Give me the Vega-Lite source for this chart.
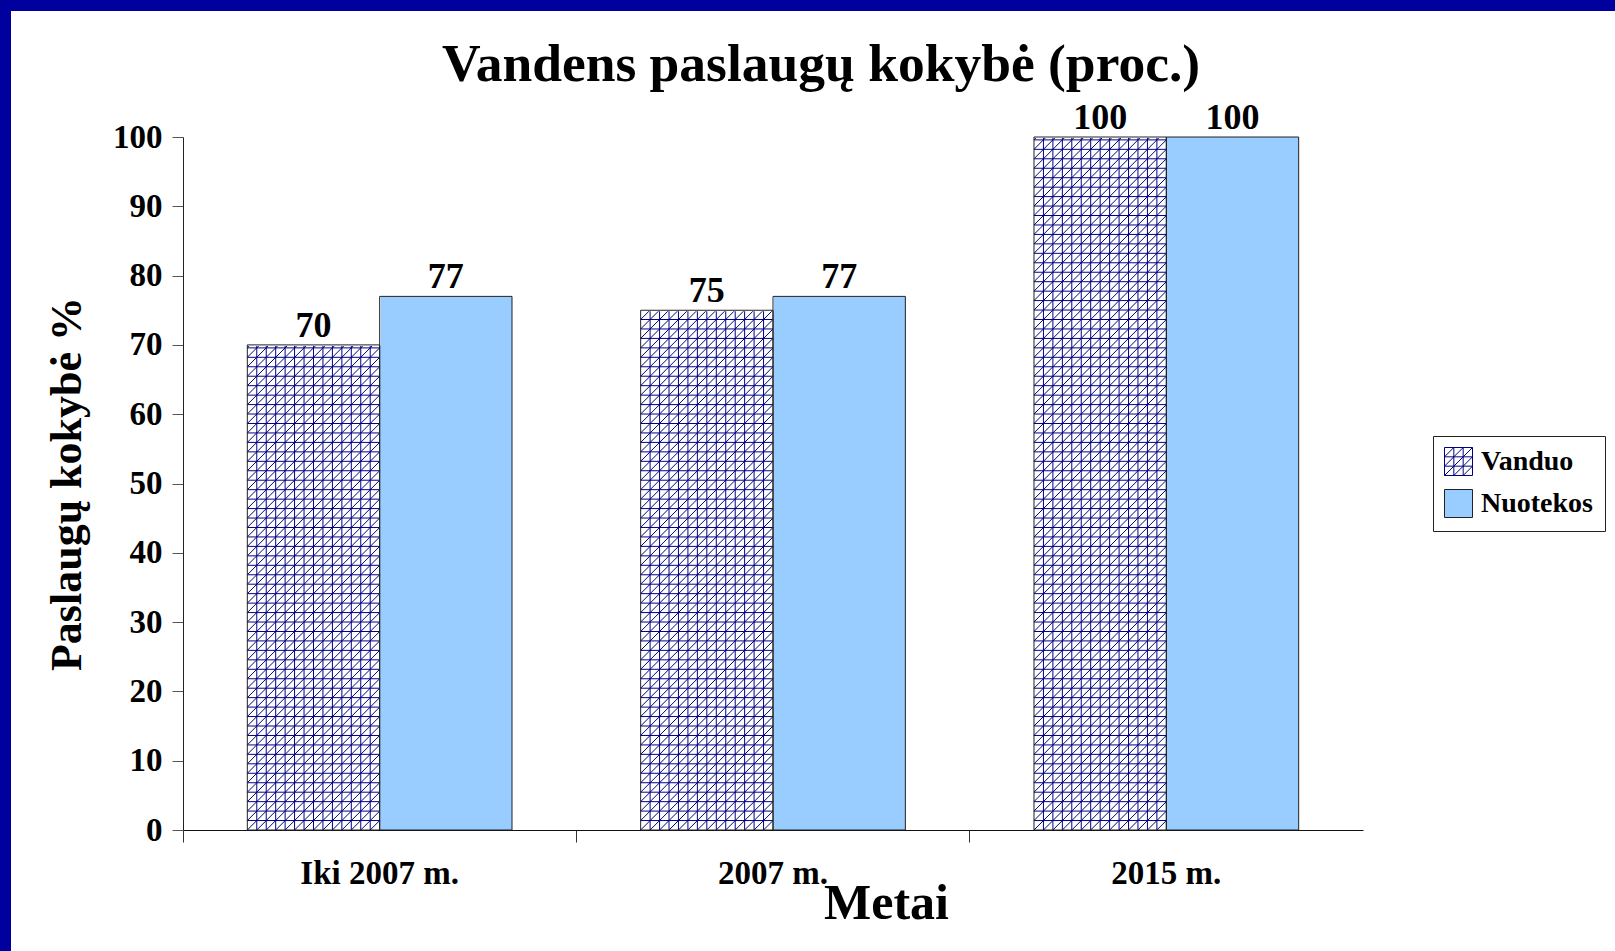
{
"$schema":"https://vega.github.io/schema/vega-lite/v6.json",
"width":1604,"height":940,
"autosize":{"type":"none"},
"padding":{"left":11,"top":11,"right":0,"bottom":0},
"background":"#00009E",
"view":{"fill":"white","stroke":null},
"title":{"text":"Vandens paslaugų kokybė (proc.)","font":"Liberation Serif","fontSize":53.5,"fontWeight":"bold","color":"black","anchor":"middle","frame":"group","offset":-123,"baseline":"alphabetic","dx":8},
"data":{"values":[
{"group":"Iki 2007 m.","series":"Vanduo","value":70},
{"group":"Iki 2007 m.","series":"Nuotekos","value":77},
{"group":"2007 m.","series":"Vanduo","value":75},
{"group":"2007 m.","series":"Nuotekos","value":77},
{"group":"2015 m.","series":"Vanduo","value":100},
{"group":"2015 m.","series":"Nuotekos","value":100}
]},
"encoding":{
"x":{"field":"group","type":"nominal","sort":["Iki 2007 m.","2007 m.","2015 m."],"scale":{"range":[172,1352],"paddingInner":0,"paddingOuter":0},
 "axis":{"title":"Metai","bandPosition":0,"offset":-121,"tickSize":12,"tickColor":"#333","domainColor":"#111","labelPadding":41,"labelBaseline":"alphabetic","labelFontSize":33,"labelAngle":0,"labelAlign":"center","titleFontSize":50,"titleX":875,"titleY":88,"titleBaseline":"alphabetic","titleAlign":"center"}},
"xOffset":{"field":"series","type":"nominal","sort":["Vanduo","Nuotekos"],"scale":{"domain":["Vanduo","Nuotekos"],"paddingInner":0,"paddingOuter":0.486}},
"y":{"field":"value","type":"quantitative","scale":{"domain":[0,100],"range":[819,126],"nice":false,"zero":true},
 "axis":{"title":"Paslaugų kokybė %","offset":-172,"values":[0,10,20,30,40,50,60,70,80,90,100],"tickSize":11,"tickColor":"#555","domainColor":"#222","labelPadding":10,"labelFontSize":33,"titleFontSize":44,"titleX":-103,"titleY":472.5,"titleBaseline":"alphabetic","titleAngle":270}}
},
"layer":[
{"mark":{"type":"bar"},
 "encoding":{"color":{"field":"series","type":"nominal","scale":{"domain":["Vanduo","Nuotekos"],"range":["white","#99CCFF"]},
  "legend":{"title":null,"orient":"none","legendX":1422,"legendY":425,"direction":"vertical","padding":11,"rowPadding":9,"strokeColor":"#222","fillColor":"white","symbolType":"square","symbolSize":784,"labelFont":"Liberation Serif","labelFontWeight":"bold","labelFontSize":28,"labelColor":"black","labelOffset":8,
   "encode":{"symbols":{"update":{
     "shape":{"signal":"datum.value === 'Vanduo' ? 'M-1,-1H1V1H-1ZM-.333,-1V1M.333,-1V1M-1,-.333H1M-1,.333H1M-1,1L1,-1M-1,.333L.333,-1M-1,-.333L-.333,-1M-.333,1L1,-.333M.333,1L1,.333' : 'square'"},
     "fill":{"signal":"datum.value === 'Vanduo' ? '#ffffff' : '#99CCFF'"},
     "stroke":{"signal":"datum.value === 'Vanduo' ? '#000080' : '#222222'"},
     "strokeWidth":{"value":1},"opacity":{"value":1}}}}}}}},
{"transform":[{"filter":"datum.series === 'Vanduo'"}],
 "mark":{"type":"point","filled":false,"color":"#000080","strokeWidth":1,"opacity":1,"size":480249,
  "shape":"M-.191,.9727H.191M-.191,.9454H.191M-.191,.9182H.191M-.191,.8909H.191M-.191,.8636H.191M-.191,.8363H.191M-.191,.809H.191M-.191,.7817H.191M-.191,.7545H.191M-.191,.7272H.191M-.191,.6999H.191M-.191,.6726H.191M-.191,.6453H.191M-.191,.618H.191M-.191,.5908H.191M-.191,.5635H.191M-.191,.5362H.191M-.191,.5089H.191M-.191,.4816H.191M-.191,.4543H.191M-.191,.4271H.191M-.191,.3998H.191M-.191,.3725H.191M-.191,.3452H.191M-.191,.3179H.191M-.191,.2906H.191M-.191,.2634H.191M-.191,.2361H.191M-.191,.2088H.191M-.191,.1815H.191M-.191,.1542H.191M-.191,.1269H.191M-.191,.0997H.191M-.191,.0724H.191M-.191,.0451H.191M-.191,.0178H.191M-.191,-.0095H.191M-.191,-.0368H.191M-.191,-.064H.191M-.191,-.0913H.191M-.191,-.1186H.191M-.191,-.1459H.191M-.191,-.1732H.191M-.191,-.2005H.191M-.191,-.2277H.191M-.191,-.255H.191M-.191,-.2823H.191M-.191,-.3096H.191M-.191,-.3369H.191M-.191,-.3642H.191M-.191,-.3914H.191M-.191,-.4187H.191M-.191,-.446H.191M-.191,-.4733H.191M-.191,-.5006H.191M-.191,-.5279H.191M-.191,-.5551H.191M-.191,-.5824H.191M-.191,-.6097H.191M-.191,-.637H.191M-.191,-.6643H.191M-.191,-.6916H.191M-.191,-.7188H.191M-.191,-.7461H.191M-.191,-.7734H.191M-.191,-.8007H.191M-.191,-.828H.191M-.191,-.8552H.191M-.191,-.8825H.191M-.191,-.9098H.191M-.191,-.9371H.191M-.191,-.9644H.191M-.191,-.9917H.191M-.1637,-1V1M-.1364,-1V1M-.1091,-1V1M-.0819,-1V1M-.0546,-1V1M-.0273,-1V1M0,-1V1M.0273,-1V1M.0546,-1V1M.0819,-1V1M.1091,-1V1M.1364,-1V1M.1637,-1V1M-.191,1l.382,-.382M-.191,.9727l.382,-.382M-.191,.9454l.382,-.382M-.191,.9182l.382,-.382M-.191,.8909l.382,-.382M-.191,.8636l.382,-.382M-.191,.8363l.382,-.382M-.191,.809l.382,-.382M-.191,.7817l.382,-.382M-.191,.7545l.382,-.382M-.191,.7272l.382,-.382M-.191,.6999l.382,-.382M-.191,.6726l.382,-.382M-.191,.6453l.382,-.382M-.191,.618l.382,-.382M-.191,.5908l.382,-.382M-.191,.5635l.382,-.382M-.191,.5362l.382,-.382M-.191,.5089l.382,-.382M-.191,.4816l.382,-.382M-.191,.4543l.382,-.382M-.191,.4271l.382,-.382M-.191,.3998l.382,-.382M-.191,.3725l.382,-.382M-.191,.3452l.382,-.382M-.191,.3179l.382,-.382M-.191,.2906l.382,-.382M-.191,.2634l.382,-.382M-.191,.2361l.382,-.382M-.191,.2088l.382,-.382M-.191,.1815l.382,-.382M-.191,.1542l.382,-.382M-.191,.1269l.382,-.382M-.191,.0997l.382,-.382M-.191,.0724l.382,-.382M-.191,.0451l.382,-.382M-.191,.0178l.382,-.382M-.191,-.0095l.382,-.382M-.191,-.0368l.382,-.382M-.191,-.064l.382,-.382M-.191,-.0913l.382,-.382M-.191,-.1186l.382,-.382M-.191,-.1459l.382,-.382M-.191,-.1732l.382,-.382M-.191,-.2005l.382,-.382M-.191,-.2277l.382,-.382M-.191,-.255l.382,-.382M-.191,-.2823l.382,-.382M-.191,-.3096l.382,-.382M-.191,-.3369l.382,-.382M-.191,-.3642l.382,-.382M-.191,-.3914l.382,-.382M-.191,-.4187l.382,-.382M-.191,-.446l.382,-.382M-.191,-.4733l.382,-.382M-.191,-.5006l.382,-.382M-.191,-.5279l.382,-.382M-.191,-.5551l.382,-.382M-.191,-.5824l.382,-.382M-.191,-.6097l.382,-.382M-.191,-.637l.363,-.363M-.191,-.6643l.3357,-.3357M-.191,-.6916l.3085,-.3085M-.191,-.7188l.2812,-.2812M-.191,-.7461l.2539,-.2539M-.191,-.7734l.2266,-.2266M-.191,-.8007l.1993,-.1993M-.191,-.828l.172,-.172M-.191,-.8552l.1448,-.1448M-.191,-.8825l.1175,-.1175M-.191,-.9098l.0902,-.0902M-.191,-.9371l.0629,-.0629M-.191,-.9644l.0356,-.0356M-.191,-.9917l.0083,-.0083M-.1637,1l.3547,-.3547M-.1364,1l.3274,-.3274M-.1091,1l.3001,-.3001M-.0819,1l.2728,-.2728M-.0546,1l.2456,-.2456M-.0273,1l.2183,-.2183M0,1l.191,-.191M.0273,1l.1637,-.1637M.0546,1l.1364,-.1364M.0819,1l.1091,-.1091M.1091,1l.0819,-.0819M.1364,1l.0546,-.0546M.1637,1l.0273,-.0273"},
 "encoding":{"y":{"datum":50,"type":"quantitative","axis":{"title":"Paslaugų kokybė %"}}}},
{"transform":[{"filter":"datum.series === 'Vanduo'"}],
 "mark":{"type":"bar","fill":"white","stroke":"white","strokeWidth":2},
 "encoding":{"y2":{"datum":100}}},
{"mark":{"type":"bar","fillOpacity":0,"stroke":"#222","strokeWidth":1}},
{"mark":{"type":"text","font":"Liberation Serif","fontWeight":"bold","fontSize":36,"baseline":"alphabetic","align":"center","dy":-8,"color":"black"},
 "encoding":{"text":{"field":"value","type":"quantitative"}}}
],
"config":{
 "font":"Liberation Serif",
 "axis":{"grid":false,"labelColor":"black","titleColor":"black","labelFontWeight":"bold","titleFontWeight":"bold","labelFont":"Liberation Serif","titleFont":"Liberation Serif"}
}
}
